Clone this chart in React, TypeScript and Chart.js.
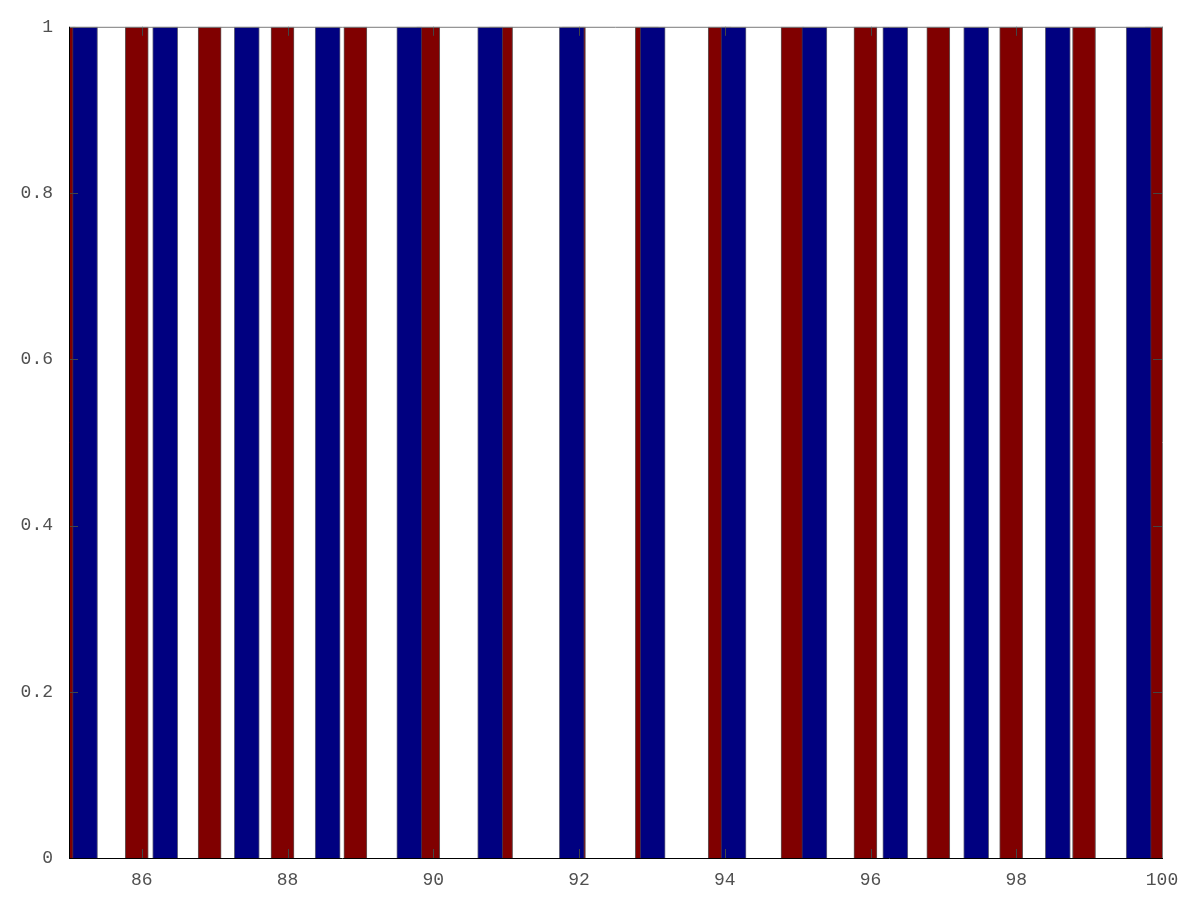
import React, { useEffect, useRef } from "react";
import { Chart, registerables } from "chart.js";

Chart.register(...registerables);

// Series: red bars (one per unit step) and blue bars (slightly wider spacing)
const redX = [84.93, 85.93, 86.93, 87.93, 88.93, 89.93, 90.93, 91.93, 92.93, 93.93, 94.93, 95.93, 96.93, 97.93, 98.93, 99.93];
const redY = [1, 1, 1, 1, 1, 1, 1, 1, 1, 1, 1, 1, 1, 1, 1, 1];
const blueX = [85.22, 86.32, 87.44, 88.55, 89.67, 90.78, 91.9, 93.01, 94.12, 95.23, 96.34, 97.45, 98.57, 99.68];
const blueY = [1, 1, 1, 1, 1, 1, 1, 1, 1, 1, 1, 1, 1, 1];

const xTicks = [86, 88, 90, 92, 94, 96, 98, 100];
const yTicks = [0, 0.2, 0.4, 0.6, 0.8, 1];
const yTickLabels = ["0", "0.2", "0.4", "0.6", "0.8", "1"];

const FONT = { family: "'Liberation Mono', 'DejaVu Sans Mono', monospace", size: 18 };

const boxPlugin = {
  id: "octaveBox",
  afterDatasetsDraw(chart: any) {
    const { ctx, chartArea, scales } = chart;
    const { left, right, top, bottom } = chartArea;
    const tl = 9;
    ctx.save();
    ctx.lineWidth = 1;
    // inward ticks
    ctx.strokeStyle = "#444";
    ctx.beginPath();
    for (const v of xTicks) {
      const x = Math.round(scales.x.getPixelForValue(v)) + 0.5;
      ctx.moveTo(x, bottom);
      ctx.lineTo(x, bottom - tl);
      ctx.moveTo(x, top);
      ctx.lineTo(x, top + tl);
    }
    for (const v of yTicks) {
      const y = Math.round(scales.y.getPixelForValue(v)) + 0.5;
      ctx.moveTo(left, y);
      ctx.lineTo(left + tl, y);
      ctx.moveTo(right, y);
      ctx.lineTo(right - tl, y);
    }
    ctx.stroke();
    // top & right box lines (grey)
    ctx.strokeStyle = "#7a7a7a";
    ctx.beginPath();
    ctx.moveTo(left, top + 0.5);
    ctx.lineTo(right, top + 0.5);
    ctx.moveTo(right + 0.5, top);
    ctx.lineTo(right + 0.5, bottom);
    ctx.stroke();
    // left & bottom axis lines (black)
    ctx.strokeStyle = "#000";
    ctx.beginPath();
    ctx.moveTo(left + 0.5, top);
    ctx.lineTo(left + 0.5, bottom);
    ctx.moveTo(left, bottom + 0.5);
    ctx.lineTo(right + 1, bottom + 0.5);
    ctx.stroke();
    ctx.restore();
  },
};

export default function App() {
  const ref = useRef<HTMLCanvasElement | null>(null);

  useEffect(() => {
    document.body.style.margin = "0";
    const canvas = ref.current;
    if (!canvas) return;
    const chart = new Chart(canvas, {
      type: "bar",
      data: {
        datasets: [
          {
            label: "blue",
            data: blueX.map((x, i) => ({ x, y: blueY[i] })),
            backgroundColor: "#000080",
            borderColor: "rgba(60,60,90,0.8)",
            borderWidth: 1,
            barThickness: 25,
            grouped: false,
          } as any,
          {
            label: "red",
            data: redX.map((x, i) => ({ x, y: redY[i] })),
            backgroundColor: "#800000",
            borderColor: "rgba(60,40,40,0.8)",
            borderWidth: 1,
            barThickness: 23,
            grouped: false,
          } as any,
        ],
      },
      options: {
        animation: false,
        responsive: false,
        maintainAspectRatio: false,
        layout: { padding: { top: 24, right: 38, left: 0, bottom: 0 } },
        plugins: { legend: { display: false }, tooltip: { enabled: false } },
        scales: {
          x: {
            type: "linear",
            min: 85,
            max: 100,
            offset: false,
            grid: { display: false, drawTicks: false },
            border: { display: false },
            afterBuildTicks: (s: any) => {
              s.ticks = xTicks.map((v) => ({ value: v }));
            },
            afterFit: (s: any) => {
              s.height = 42;
            },
            ticks: {
              color: "#505050",
              font: FONT,
              padding: 11,
              maxRotation: 0,
              autoSkip: false,
              callback: (v: any) => String(v),
            },
          },
          y: {
            type: "linear",
            min: 0,
            max: 1,
            grid: { display: false, drawTicks: false },
            border: { display: false },
            afterBuildTicks: (s: any) => {
              s.ticks = yTicks.map((v) => ({ value: v }));
            },
            afterFit: (s: any) => {
              s.width = 69;
            },
            ticks: {
              color: "#505050",
              font: FONT,
              padding: 16,
              autoSkip: false,
              callback: (v: any) => {
                const i = yTicks.findIndex((t) => Math.abs(t - Number(v)) < 1e-9);
                return i >= 0 ? yTickLabels[i] : "";
              },
            },
          },
        },
      } as any,
      plugins: [boxPlugin],
    });
    return () => chart.destroy();
  }, []);

  return (
    <div style={{ width: 1200, height: 900, background: "#fff" }}>
      <canvas ref={ref} width={1200} height={900} style={{ display: "block" }} />
    </div>
  );
}
